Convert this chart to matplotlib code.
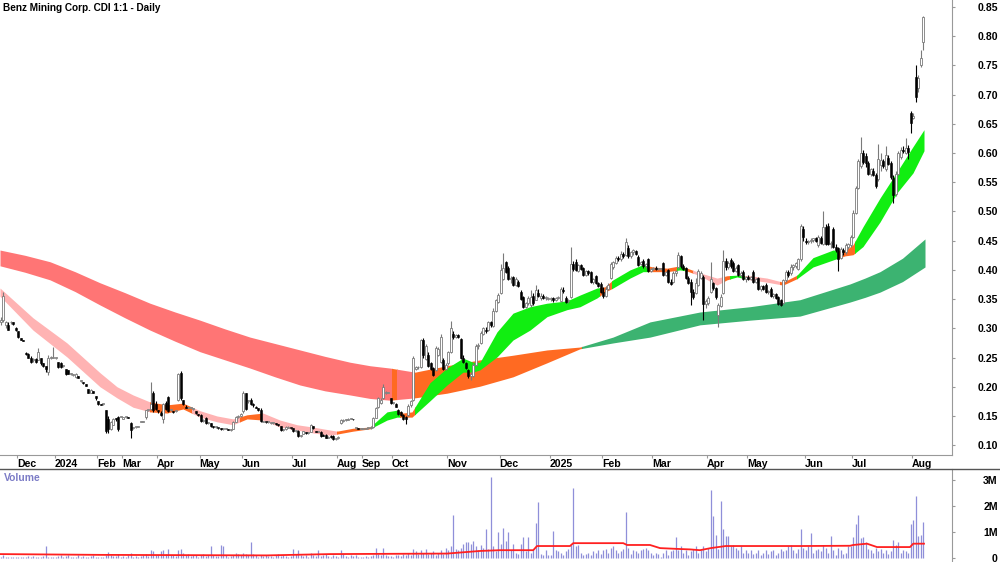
import numpy as np
import matplotlib
matplotlib.use('Agg')
import matplotlib.pyplot as plt
from matplotlib.patches import Rectangle
from matplotlib.lines import Line2D

plt.rcParams['font.family'] = ['Liberation Sans', 'DejaVu Sans']
plt.rcParams['font.weight'] = 'bold'

title = 'Benz Mining Corp. CDI 1:1 - Daily'

# one entry per traded day, prices in cents (one row per month)
opens = [
    31, 31.5, 30.5, 30.6, 31, 31, 30,
    29.5, 28.3, 28, 25.8, 25.6, 25, 24.5, 24.8, 24.5, 25, 24, 23.5, 22.6, 25, 25,
    25, 24.2, 24, 23.6, 23, 22.8, 22.2, 22, 21.6, 21.8, 21, 20.8, 20.4, 19.6, 19, 19.2, 18.5,
    17.5, 17, 17, 16, 14.5, 12.8, 13.5, 14.6, 14.8, 14.8,
    14.5, 14.8, 14.8, 13.8, 13, 13.1, 13.1, 14, 14, 14.8, 16, 16.2, 19, 17,
    16, 15.5, 14.5, 17.3, 18.2, 16, 15.8, 15.8, 17.8, 22.4, 17.7, 16.6, 16.4, 16.4, 16.2, 15.8, 15.4,
    15.2, 14.2, 14.6, 13.8, 13.8, 13.2, 13.1, 13, 12.9, 12.7, 12.8, 12.8, 12.6, 12.8, 14, 14.8, 15,
    15.8, 19, 17.5, 17.8, 17, 16.6, 16.3, 16, 14, 14, 13.9, 13.8, 13.8, 13.8, 13.6, 13.2, 12.6, 12.7, 13, 13,
    12.9, 12.4, 12.5, 11.5, 12, 12.2, 12.1, 12.3, 13.2, 12.4, 12.3, 12.3, 11.8, 11.8, 11.3, 11.6, 11.6, 11,
    11.2, 13.8, 14.2, 14.3, 14.3, 14.5, 14.5, 12.9, 12.9, 12.8,
    12.8, 12.8, 12.9, 12.9, 13.1, 14.7, 16.5, 17.2, 18, 19, 19, 18,
    17.2, 17, 16, 15.6, 15.2, 14.8, 15.2, 16.8, 17.8, 23, 23.3, 23.4, 28, 24.8, 25.5, 24, 23.2, 22.9, 25.5, 24.2, 24.5, 23,
    24, 26, 29, 28.5, 28.8, 28.2, 25, 24, 22.9, 21.8, 21.8, 23.8, 27, 27.5, 29, 29.8, 29.8, 31, 30.4, 33, 34.5,
    36, 38.5, 41.4, 40.3, 38.4, 38.8, 37.5, 38, 36.3, 35.4, 33.6, 34.3, 34, 35.5, 34.9, 36, 35.2, 35.5, 35.2, 35,
    35, 35.2, 34.8, 35.2, 34.6, 36.5, 35.2, 34.6, 35.4, 41, 41.4, 39.8, 40.8, 40.3, 39.2, 39.8, 39.6, 38, 39, 37.8, 37.6,
    36.3, 35.6, 36.8, 38.6, 40.5, 41.2, 42, 41.8, 42.8, 42.6, 43.8, 42.3, 43, 43.2, 42.2, 41, 41.5, 40.6, 41.8, 39.8,
    40.2, 40.4, 40.1, 40.2, 41.2, 39.2, 40, 38, 38, 39.4, 40.5, 42.4, 40.6, 40.3, 38.6, 38, 36.2, 36, 37.4, 38.6, 38.8, 34.2,
    34.3, 36.2, 37.8, 36.9, 32.3, 33.8, 36, 41.5, 40.5, 41.7, 41.2, 39.8, 40.8, 39.2, 39.6, 38.4,
    38.8, 38.5, 39.6, 38, 38.6, 36.8, 37.2, 37.5, 36.2, 36.8, 35.5, 35.8, 35.4, 34.8, 34.4, 38.2, 39.6, 39.5, 40.5, 40.6, 40.2, 41.8, 47,
    45, 44.8, 45, 45.2, 45.4, 44.2, 45.5, 44.5, 47.4, 47.6, 44.4, 47, 44, 43.8, 42, 43.4, 43, 44, 44.2,
    45.6, 49.8, 54, 57.8, 60, 59.5, 58.3, 56.4, 57, 56.3, 55.5, 58, 58.6, 57.2, 59.2, 58.3, 55.8, 53, 56.5, 59.3, 60.6, 60, 60.8, 66.9,
    66, 73, 71.2, 75.1, 79,
]
highs = [
    32, 36.2, 31.2, 31, 31.2, 31, 30.2,
    29.5, 28.3, 28, 26, 25.8, 25.2, 25, 25, 26.6, 25, 24, 23.6, 25.4, 25.2, 26.8,
    25, 24.2, 24.2, 23.8, 23, 22.9, 22.4, 22.2, 22.3, 21.8, 21.1, 20.8, 20.4, 19.6, 19.6, 19.2, 18.5,
    17.5, 17, 17, 16, 15, 14.2, 14.7, 14.7, 15, 14.8,
    14.8, 14.9, 14.9, 14, 13, 13.1, 13.3, 14.1, 14.2, 16, 16, 20.8, 19.2, 17.5,
    16, 15.8, 17.3, 17.5, 18.5, 16.2, 15.8, 15.9, 22.4, 22.7, 17.8, 16.8, 16.5, 16.5, 16.3, 15.8, 15.4,
    15.3, 14.4, 14.8, 13.9, 13.8, 13.3, 13.2, 13, 13, 12.8, 12.9, 12.8, 12.7, 14.2, 15, 15.2, 15.5,
    19.2, 19, 17.8, 18, 17.2, 16.7, 16.3, 16.3, 14.2, 14, 14, 13.9, 13.9, 13.8, 13.7, 13.3, 12.8, 13.2, 13.2, 13,
    13, 12.6, 12.6, 11.8, 12.5, 12.3, 12.2, 13.6, 13.3, 12.5, 12.3, 12.4, 12, 11.9, 11.5, 11.7, 11.7, 11.2,
    11.5, 14.4, 14.4, 14.4, 14.6, 14.6, 14.5, 13, 12.9, 12.9,
    12.9, 13, 13, 13.2, 14.8, 16.6, 18.2, 18, 20.4, 19.2, 19.1, 18.1,
    17.4, 17.2, 16.2, 15.8, 15.3, 15, 17, 17.8, 25.2, 23.6, 23.5, 28.2, 28.3, 27.3, 26, 24.2, 23.4, 27, 26.8, 29, 25, 24,
    26.2, 31.2, 29.5, 29, 29, 28.4, 25.5, 24.2, 23, 22.5, 24, 27.3, 27.5, 29.5, 30.3, 30.2, 31.2, 31.2, 33.4, 35, 36,
    41, 42.9, 41.6, 40.6, 39, 39, 38.8, 38.2, 36.6, 35.6, 34.5, 35.5, 36.5, 36, 37.5, 36.8, 36, 35.8, 35.6, 35.4,
    35.4, 35.4, 35.3, 35.5, 37, 37, 35.5, 35, 43.9, 41.5, 41.8, 41, 41, 40.5, 40, 40, 39.8, 38.6, 39.2, 38, 38,
    37, 37.2, 37.8, 41.3, 41.6, 42.3, 42.4, 43.2, 43, 45.5, 44.2, 43.2, 43.6, 43.4, 42.5, 41.6, 41.8, 41.2, 42, 40.4,
    40.5, 40.6, 40.3, 40.4, 41.4, 39.8, 40.2, 38.4, 39.8, 40, 43, 42.6, 41, 40.5, 39, 38.4, 36.8, 38.6, 40.2, 39.8, 39.2, 35,
    35.6, 41.4, 38, 37, 34.4, 35.8, 43.4, 42, 41.5, 42, 41.5, 40.6, 41, 39.8, 40, 39,
    39.2, 39, 40, 38.6, 38.8, 37.4, 37.5, 37.8, 36.6, 37, 36, 36, 35.6, 35, 38.5, 40, 40, 41, 41, 41.4, 42, 47.8, 47.5,
    45.5, 45.2, 45.5, 45.5, 45.6, 46, 45.8, 50, 47.8, 48, 45, 47.4, 44.5, 44, 44, 43.8, 44.6, 44.6, 46,
    50.2, 54.4, 59, 62.8, 60.6, 60, 58.6, 57.5, 57.4, 56.6, 61.5, 60, 59, 61.2, 59.6, 58.6, 56.2, 57, 60.4, 61, 61.2, 62.6, 61.4, 67.2,
    66.8, 75.1, 73.4, 77.7, 83.5,
]
lows = [
    30.5, 31, 30, 29.7, 30.8, 30.6, 29.6,
    28.3, 28, 27.8, 25.5, 25, 24, 24.2, 24, 24.5, 23.8, 23.4, 22.5, 22, 24.8, 25,
    24.8, 23.2, 23.2, 23.4, 22, 22.1, 22, 21.8, 21.5, 21.5, 20.9, 20.5, 20.2, 19, 19, 19, 17.8,
    16.9, 16.8, 16.9, 12.1, 12.1, 12.6, 13.4, 14.2, 12.5, 14.8,
    14.5, 14.7, 14.6, 11.2, 12.8, 13, 13.1, 13.9, 13.9, 14.5, 15.8, 16, 15.7, 16,
    15.5, 15, 13.8, 16, 15.7, 15.8, 15.5, 15.7, 17.5, 17.8, 16.9, 16.3, 16.3, 16.3, 16.1, 15.4, 15,
    14, 14, 13.7, 13.6, 13.1, 13, 13, 12.8, 12.6, 12.6, 12.7, 12.6, 12.5, 12.7, 13.9, 14.6, 14.8,
    15.5, 16, 17.2, 16.9, 16.6, 16.3, 15.8, 14, 13.9, 13.8, 13.8, 13.7, 13.7, 13.5, 13.3, 12.5, 12.5, 12.6, 12.9, 12.8,
    12.3, 12.3, 11.4, 11.4, 11.9, 12, 12, 12.2, 12.8, 12.2, 12.2, 11.4, 11.5, 11.2, 11.2, 11.2, 10.9, 10.9,
    11.1, 13.7, 14, 14.2, 14.3, 14.4, 14.3, 12.7, 12.7, 12.7,
    12.7, 12.7, 12.8, 12.8, 13, 14.6, 16.4, 17, 17.9, 18.8, 18.9, 17,
    17, 16.5, 15.2, 15, 14.3, 13.6, 15, 16.6, 17.5, 22.8, 23, 23.2, 25, 24.6, 23.4, 22.8, 21.8, 22.7, 25.2, 24, 22.8, 22.8,
    23.8, 25.8, 28.2, 28.3, 28.4, 24.8, 24, 23, 21.5, 21.2, 21.6, 23.6, 26.5, 27.3, 28.8, 29.2, 29.6, 30.2, 30.2, 32.8, 34.3,
    35.8, 38.3, 39.4, 38.2, 37.8, 37.3, 37.3, 37, 34.8, 33.4, 33.4, 34, 33.6, 34, 34.8, 35.4, 34.9, 35, 34.8, 34.8,
    34.6, 34.5, 34.6, 35, 34.5, 36, 34.3, 34.4, 35.2, 39.8, 39.8, 39.6, 40, 39, 39, 39.2, 37.8, 37.6, 37.6, 37, 36,
    35.2, 35.4, 36.5, 38.4, 40.2, 41, 41.6, 41.6, 42, 42.4, 42, 42, 42.5, 42.6, 40.6, 40.8, 40.4, 40.4, 39.6, 39.6,
    39.9, 40, 40, 40, 39, 39, 37.8, 37.4, 37.8, 39, 40.2, 40.4, 40, 38.4, 37.6, 34, 35, 35.8, 37.2, 38.4, 31.4, 33.5,
    34, 36, 36.5, 35, 30.2, 33.6, 35.8, 40, 40.2, 40.4, 39.6, 39.6, 39, 38.8, 38.2, 38,
    38.2, 38.2, 37.8, 37.8, 36.6, 36.4, 36.5, 36, 35.8, 35.3, 35.2, 35, 34, 33.8, 34.2, 38, 38.8, 39.2, 40, 40.4, 40, 41.6, 45,
    44.4, 44.5, 44.6, 44.8, 44.8, 44, 44.4, 44.3, 44.2, 44.2, 43.8, 43.8, 43, 39.8, 41.8, 42.6, 42.8, 43.6, 44,
    45.4, 49.6, 53.8, 57.4, 58.2, 57.6, 56.2, 56, 56, 54, 55.2, 57, 57.4, 57, 58, 55.6, 51.5, 52.6, 56.2, 59, 60, 59.8, 59, 63.5,
    65.8, 68.8, 70.5, 74.8, 77.7,
]
closes = [
    31.5, 35.6, 31, 29.8, 31, 30.8, 29.7,
    28.5, 28, 27.9, 25.6, 25, 24.2, 24.8, 24.2, 26, 24, 23.5, 23, 25, 25, 25,
    25, 23.3, 23.3, 23.6, 22.2, 22.2, 22.2, 22, 22.2, 21.5, 21, 20.6, 20.2, 19, 19.5, 19, 18,
    17, 16.8, 17, 12.5, 12.8, 14, 14.5, 14.4, 12.8, 14.8,
    14.8, 14.8, 14.7, 12.6, 13, 13.1, 13.2, 14, 14, 16, 16, 17, 16, 16.2,
    15.8, 15.2, 17, 16.2, 15.8, 16, 15.6, 15.8, 22.2, 18, 17, 16.4, 16.4, 16.4, 16.2, 15.5, 15.2,
    14.2, 14.2, 13.8, 13.8, 13.2, 13.1, 13.1, 12.9, 12.7, 12.8, 12.8, 12.6, 12.6, 14, 14.8, 15, 15.3,
    19, 16.2, 17.6, 17, 16.8, 16.4, 16, 14.2, 14, 13.9, 13.9, 13.8, 13.8, 13.6, 13.4, 12.6, 12.7, 13.1, 13, 12.9,
    12.4, 12.5, 11.5, 11.7, 12.4, 12.1, 12.1, 13.4, 12.9, 12.3, 12.3, 11.6, 11.6, 11.3, 11.4, 11.4, 11, 11.1,
    11.4, 14.3, 14.3, 14.3, 14.5, 14.5, 14.4, 12.9, 12.8, 12.8,
    12.8, 12.9, 12.9, 13, 14.6, 16.4, 18, 17.8, 20, 19, 19, 17.2,
    17.2, 16.6, 15.3, 15.2, 14.5, 14.4, 16.7, 17.6, 25, 23.4, 23.4, 28, 25.5, 27, 23.5, 23, 22, 26.6, 26.5, 28.5, 23, 23.8,
    26, 30, 28.5, 28.8, 28.6, 25, 24.2, 23.2, 21.8, 22.2, 23.8, 27, 27.2, 29.2, 30, 29.5, 31, 30.5, 33, 34.8, 35.7,
    40, 40.3, 39.6, 38.4, 38.6, 37.5, 38.5, 37.2, 35, 33.6, 34.3, 35.2, 35.3, 34.3, 36.5, 35.6, 35.6, 35.2, 35.3, 35,
    35.2, 34.8, 35.2, 35.3, 36.8, 36.4, 34.5, 34.8, 41, 40.2, 40, 40.8, 40.2, 39.2, 39.8, 39.4, 38, 38.4, 37.8, 37.2, 36.2,
    35.6, 36.8, 37.5, 41, 41.3, 42, 41.8, 42.8, 42.3, 44.8, 42.3, 43, 43.4, 42.8, 40.9, 41.4, 40.6, 41, 39.8, 40.2,
    40.4, 40.1, 40.2, 40.2, 39.2, 39.6, 38, 37.6, 39.4, 39.8, 42.5, 40.6, 40.2, 38.6, 37.8, 36.2, 35.4, 37.8, 39.8, 39.4, 34.2, 34.6,
    35.2, 38.5, 36.9, 35.4, 34, 35.4, 41.5, 40.5, 41.2, 40.6, 39.8, 40.4, 39.2, 39.5, 38.4, 38.8,
    38.5, 38.8, 38, 38.4, 36.8, 37.2, 36.7, 36.2, 36.3, 35.5, 35.8, 35.2, 34.2, 34, 38.2, 39.6, 39.2, 40.5, 40.8, 41.2, 41.8, 47.5, 45.6,
    44.8, 45, 45.2, 45.4, 45, 45.6, 44.6, 47.4, 44.5, 44.4, 44.6, 44, 43.4, 41.8, 43.6, 43, 44.2, 44.4, 45.6,
    49.8, 54, 58.6, 60, 58.4, 58.3, 56.4, 57.2, 56.3, 54.3, 59, 58.8, 57.8, 59.6, 58.2, 55.9, 52.9, 56.5, 60, 60.6, 60.4, 60.8, 60.2, 65.2,
    66.4, 69.6, 72.9, 76.3, 83.3,
]
# volume in millions of shares
volumes = [
    0.05, 0.1, 0.03, 0.04, 0.02, 0.03, 0.05,
    0.03, 0.02, 0.05, 0.04, 0.06, 0.03, 0.08, 0.04, 0.05, 0.03, 0.06, 0.46, 0.05, 0.02, 0.04,
    0.05, 0.08, 0.1, 0.03, 0.06, 0.12, 0.04, 0.05, 0.03, 0.1, 0.04, 0.06, 0.03, 0.05, 0.08, 0.1, 0.05,
    0.05, 0.04, 0.03, 0.12, 0.22, 0.1, 0.08, 0.06, 0.15, 0.04,
    0.06, 0.04, 0.1, 0.18, 0.05, 0.08, 0.04, 0.06, 0.1, 0.15, 0.08, 0.3, 0.25, 0.12,
    0.1, 0.25, 0.3, 0.15, 0.35, 0.1, 0.12, 0.08, 0.3, 0.35, 0.2, 0.1, 0.15, 0.08, 0.12, 0.1, 0.05,
    0.1, 0.15, 0.08, 0.12, 0.46, 0.1, 0.06, 0.08, 0.5, 0.48, 0.1, 0.05, 0.08, 0.12, 0.2, 0.15, 0.1,
    0.2, 0.15, 0.1, 0.6, 0.15, 0.1, 0.05, 0.12, 0.08, 0.1, 0.06, 0.08, 0.05, 0.1, 0.15, 0.08, 0.12, 0.06, 0.05, 0.08,
    0.35, 0.15, 0.3, 0.1, 0.08, 0.12, 0.05, 0.2, 0.1, 0.08, 0.3, 0.06, 0.1, 0.15, 0.08, 0.05, 0.1, 0.06,
    0.05, 0.3, 0.15, 0.08, 0.05, 0.1, 0.06, 0.12, 0.05, 0.04,
    0.05, 0.08, 0.04, 0.06, 0.1, 0.38, 0.15, 0.12, 0.38, 0.1, 0.06, 0.08,
    0.05, 0.1, 0.12, 0.08, 0.15, 0.1, 0.2, 0.12, 0.35, 0.25, 0.15, 0.3, 0.2, 0.35, 0.15, 0.2, 0.25, 0.12, 0.2, 0.3, 0.15, 0.4,
    0.3, 0.45, 1.65, 0.35, 0.3, 0.4, 0.55, 0.6, 0.62, 0.55, 0.65, 0.45, 0.3, 0.5, 0.4, 1.1, 0.35, 3.1, 0.45, 0.25, 1.0,
    0.55, 1.15, 0.65, 1.0, 0.3, 0.55, 0.2, 0.15, 0.55, 0.8, 0.25, 0.8, 0.2, 0.3, 1.35, 2.15, 0.15, 0.1, 0.3, 0.1,
    0.1, 1.05, 0.3, 0.25, 0.2, 0.1, 0.25, 0.35, 0.5, 2.7, 0.45, 0.5, 0.2, 0.1, 0.15, 0.2, 0.1, 0.25, 0.2, 0.3, 0.15,
    0.3, 0.35, 0.2, 0.4, 0.45, 0.3, 0.2, 0.25, 0.35, 1.75, 0.4, 0.15, 0.3, 0.25, 0.2, 0.3, 0.35, 0.4, 0.3, 0.2,
    0.1, 0.2, 0.15, 0.05, 0.2, 0.3, 0.1, 0.25, 0.3, 0.8, 0.3, 0.45, 0.2, 0.3, 0.1, 0.25, 0.35, 0.45, 0.2, 0.3, 0.45, 0.25,
    0.4, 2.6, 1.6, 0.9, 0.35, 2.2, 1.1, 0.85, 0.85, 0.45, 0.5, 0.4, 0.3, 0.45, 0.2, 0.3,
    0.2, 0.3, 0.15, 0.2, 0.3, 0.1, 0.2, 0.3, 0.15, 0.25, 0.3, 0.1, 0.2, 0.35, 0.25, 0.3, 0.45, 0.5, 0.3, 0.2, 0.35, 1.1, 0.4,
    0.3, 0.45, 0.95, 0.2, 0.3, 0.35, 0.25, 0.5, 0.4, 0.2, 0.85, 0.3, 0.1, 0.4, 0.3, 0.15, 0.2, 0.45, 0.45,
    0.8, 1.3, 1.65, 0.75, 0.8, 0.6, 0.35, 0.3, 0.2, 0.4, 0.25, 0.35, 0.2, 0.3, 0.15, 0.25, 0.7, 0.5, 0.6, 0.2, 0.3, 0.25, 0.2, 1.3,
    1.45, 2.4, 0.85, 0.87, 1.4,
]

# first bar of each month and its label
month_starts = [7, 22, 39, 49, 63, 80, 97, 117, 135, 145, 157, 179, 200, 220,
                241, 261, 283, 299, 322, 341, 365]
month_labels = ['Dec', '2024', 'Feb', 'Mar', 'Apr', 'May', 'Jun', 'Jul', 'Aug',
                'Sep', 'Oct', 'Nov', 'Dec', '2025', 'Feb', 'Mar', 'Apr', 'May',
                'Jun', 'Jul', 'Aug']

# long-term ribbon (bar index, upper and lower edge in cents)
long_x = [-0.3, 9.7, 19.7, 29.7, 39.7, 49.7, 59.7, 69.7, 79.7, 89.7, 99.7, 109.7,
          119.7, 129.7, 139.7, 147.7, 155.7, 165.7, 178.5, 191.7, 204.9, 218.5, 231.7,
          244.9, 259.7, 279.7, 299.7, 319.7, 339.7, 345.7, 351.7, 360.7, 369.7]
long_top = [43.4, 42.5, 41.4, 39.7, 37.8, 36.1, 34.3, 32.8, 31.4, 29.9, 28.5, 27.4,
            26.3, 25.2, 24.2, 23.6, 23.2, 22.5, 23.6, 24.6, 25.4, 26.3, 26.8,
            28.5, 31.1, 32.8, 33.7, 34.9, 37.6, 38.6, 39.7, 42.0, 45.3]
long_bot = [40.7, 39.6, 38.3, 36.3, 34.0, 31.8, 29.7, 27.8, 26.0, 24.6, 23.2, 21.7,
            20.3, 19.3, 18.6, 18.0, 17.7, 18.1, 18.9, 20.1, 21.7, 24.1, 26.5,
            27.5, 28.5, 30.6, 31.4, 32.1, 34.5, 35.3, 36.2, 38.0, 40.5]
long_breaks = [-1, 156.5, 158.5, 164.9, 232.5, 371]
long_colors = ['red', 'orange', 'red', 'orange', 'dkgreen']

# short-term ribbon
short_x = [-0.3, 12.9, 26.5, 39.7, 46.5, 52.9, 59.7, 66.5, 72.9, 79.7, 86.5, 92.9, 98.5,
           104.9, 111.7, 118.5, 124.9, 131.7, 134.5, 140.9, 147.7, 154.5, 158.5, 160.9,
           164.5, 171.7, 178.5, 184.9, 188.9, 191.7, 198.5, 204.9, 211.7, 218.5, 226.5,
           231.7, 238.5, 241.7, 244.9, 251.7, 256.9, 260.9, 266.5, 271.7, 274.5, 279.7,
           286.5, 290.5, 294.5, 299.7, 306.5, 312.9, 318.5, 324.9, 332.9, 337.7, 340.9,
           344.9, 351.7, 358.5, 364.9, 369.3]
short_top = [36.9, 31.8, 27.5, 22.4, 20.0, 18.6, 17.4, 16.9, 17.2, 15.9, 15.0, 14.5, 15.2,
             15.5, 14.3, 13.5, 13.1, 12.6, 12.4, 12.9, 13.1, 15.7, 16.0, 15.5, 15.7, 20.7,
             23.2, 24.9, 24.2, 24.2, 29.4, 32.6, 33.7, 34.3, 34.7, 35.7, 36.9, 37.1, 38.3,
             40.0, 40.9, 40.5, 40.3, 40.7, 40.3, 39.5, 38.6, 39.0, 39.1, 39.0, 38.6, 37.9,
             39.1, 42.1, 43.4, 43.3, 44.3, 47.4, 52.3, 56.8, 61.1, 64.0]
short_bot = [35.5, 29.7, 25.1, 20.0, 18.1, 16.5, 15.7, 15.5, 16.2, 14.8, 14.0, 13.5, 14.5,
             14.3, 13.1, 12.6, 12.1, 11.7, 11.9, 12.4, 12.8, 14.3, 14.8, 14.8, 14.8, 17.6,
             20.3, 22.5, 22.5, 22.9, 25.1, 28.0, 29.7, 32.0, 33.2, 33.7, 35.2, 36.2, 36.9,
             38.6, 39.7, 39.7, 39.7, 40.0, 39.8, 39.0, 37.4, 38.3, 38.8, 38.3, 37.9, 37.4,
             38.5, 40.5, 41.7, 42.4, 42.6, 44.0, 48.2, 53.2, 56.6, 60.4]
short_breaks = [-1, 59.7, 76.5, 95.7, 104.5, 134.5, 148.5, 159.7, 165.7, 239.7, 244.5,
                258.9, 270.5, 273.7, 276.9, 288.5, 291.7, 297.7, 311.7, 318.5, 334.9,
                341.7, 371]
short_colors = ['pink', 'orange', 'pink', 'orange', 'pink', 'orange', 'green', 'orange',
                'green', 'orange', 'green', 'orange', 'green', 'orange', 'pink', 'orange',
                'green', 'pink', 'orange', 'green', 'orange', 'green']

# volume average line (bar index, millions)
vma_x = [-0.3, 39.7, 106.5, 131.7, 178.5, 191.7, 199.7, 213, 214.5, 227.7, 229, 249,
         250.5, 259.7, 263.7, 270.5, 275.7, 279.7, 284, 290, 319.7, 339.7, 341, 346.5,
         350.5, 363.7, 365, 369.3]
vma_y = [0.15, 0.12, 0.1, 0.15, 0.17, 0.27, 0.3, 0.3, 0.46, 0.46, 0.57, 0.57, 0.5, 0.5,
         0.38, 0.35, 0.33, 0.3, 0.38, 0.46, 0.46, 0.47, 0.5, 0.55, 0.42, 0.42, 0.55, 0.55]

palette = {'red': '#ff7575', 'pink': '#ffb3b3', 'orange': '#ff6a22',
           'green': '#11ee11', 'dkgreen': '#3cb371'}


def draw_ribbon(ax, xs, top, bot, breaks, colors, z):
    top = np.array(top) / 100
    bot = np.array(bot) / 100
    for x0, x1, name in zip(breaks[:-1], breaks[1:], colors):
        poly = ax.fill_between(xs, top, bot, color=palette[name], lw=0, zorder=z)
        poly.set_clip_path(Rectangle((x0, 0), x1 - x0, 2, transform=ax.transData))


W, H = 1000, 562
fig = plt.figure(figsize=(W / 100, H / 100), dpi=100)
ax = fig.add_axes([0, 107 / H, 952 / W, 455 / H])
axv = fig.add_axes([0, 0, 952 / W, 93 / H])

x = np.arange(len(closes))
o = np.array(opens) / 100
h = np.array(highs) / 100
l = np.array(lows) / 100
c = np.array(closes) / 100

draw_ribbon(ax, long_x, long_top, long_bot, long_breaks, long_colors, 1)
draw_ribbon(ax, short_x, short_top, short_bot, short_breaks, short_colors, 2)

up = c >= o
wick_col = np.where(up, '#7a7a7a', '#000000')
ax.vlines(x, l, h, colors=wick_col, lw=0.8, zorder=3)
body_lo = np.minimum(o, c)
body_h = np.maximum(np.abs(c - o), 0.0016)
ax.bar(x[up], body_h[up], bottom=body_lo[up], width=0.75, facecolor='white',
       edgecolor='#7a7a7a', lw=0.6, zorder=4)
ax.bar(x[~up], body_h[~up], bottom=body_lo[~up], width=0.75, facecolor='black',
       edgecolor='black', lw=0.4, zorder=4)

ax.set_xlim(-0.3, 380.5)
ax.set_ylim(0.0832, 0.862)
ax.yaxis.tick_right()
ax.set_yticks(np.arange(0.10, 0.851, 0.05))
ax.set_yticklabels([f'{v:.2f}' for v in np.arange(0.10, 0.851, 0.05)])
ax.tick_params(axis='y', length=2, color='#999999', pad=31, labelsize=7.6)
for lab in ax.get_yticklabels():
    lab.set_horizontalalignment('right')
ax.set_xticks([s - 0.5 for s in month_starts])
ax.set_xticklabels(month_labels)
ax.tick_params(axis='x', length=2, color='#999999', pad=1, labelsize=7.6)
for lab in ax.get_xticklabels():
    lab.set_horizontalalignment('left')
for side in ['top', 'left']:
    ax.spines[side].set_visible(False)
for side in ['bottom', 'right']:
    ax.spines[side].set_color('#999999')

# volume panel
axv.vlines(x, 0, volumes, colors='#8f8fd9', lw=0.9)
axv.plot(vma_x, vma_y, color='#ff2020', lw=1.3)
axv.set_xlim(-0.3, 380.5)
axv.set_ylim(-0.154, 3.42)
axv.yaxis.tick_right()
axv.set_yticks([0, 1, 2, 3])
axv.set_yticklabels(['0', '1M', '2M', '3M'])
axv.tick_params(axis='y', length=2, color='#999999', pad=31, labelsize=7.6)
for lab in axv.get_yticklabels():
    lab.set_horizontalalignment('right')
axv.set_xticks([])
for side in ['top', 'left', 'bottom']:
    axv.spines[side].set_visible(False)
axv.spines['right'].set_color('#999999')

fig.add_artist(Line2D([0, 1], [93 / H, 93 / H], color='#555555', lw=1,
                      transform=fig.transFigure))
fig.text(3 / W, 1 - 8 / H, title, fontsize=7.2, fontweight='bold', va='center', ha='left')
fig.text(4 / W, 1 - 478 / H, 'Volume', fontsize=7.4, fontweight='bold',
         color='#7b7bc6', va='center', ha='left')

fig.savefig('out.png', dpi=100)
